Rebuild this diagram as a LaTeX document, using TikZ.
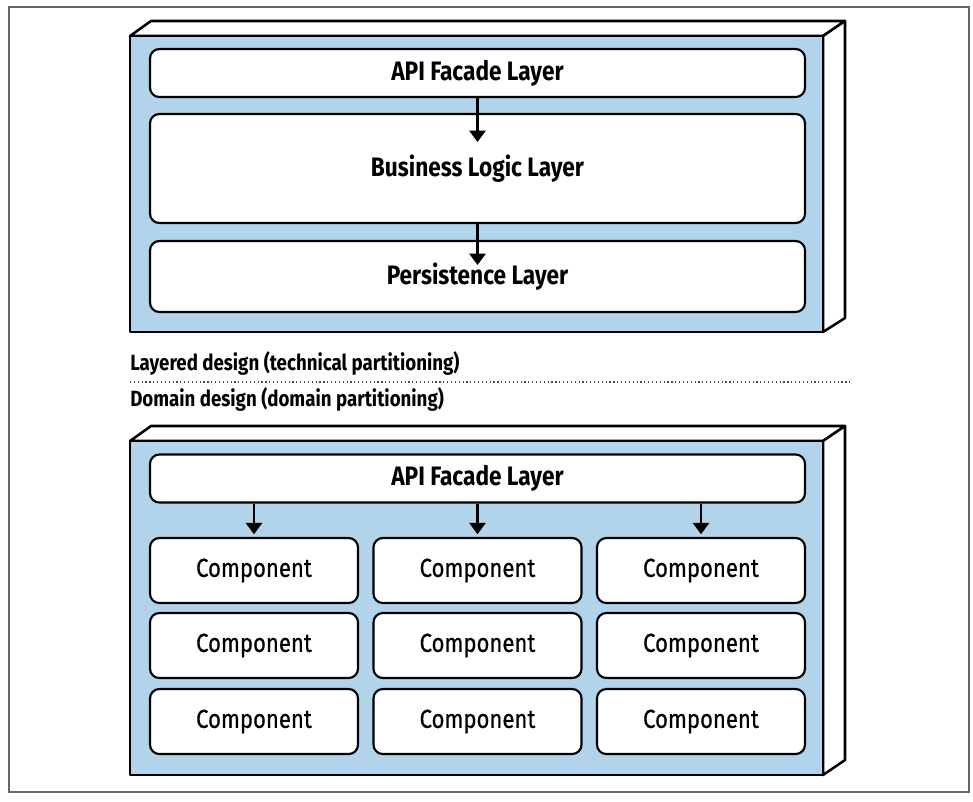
\documentclass[tikz,border=0pt]{standalone}
\usepackage{fontspec}
\setmainfont[FakeStretch=0.85]{Fira Sans}
\newfontfamily\compfont[FakeStretch=0.85,FakeBold=0.6]{Fira Sans}
\usetikzlibrary{arrows.meta}
\definecolor{boxblue}{RGB}{178,212,235}
\tikzset{
  face/.style={draw=black, line width=1.9pt, line join=round, fill=white},
  front/.style={draw=black, line width=1.9pt, line join=round, fill=boxblue},
  layer/.style={draw=black, line width=1.6pt, fill=white, rounded corners=7pt, inner sep=0pt, font=\fontsize{20}{22}\selectfont\bfseries},
  comp/.style={draw=black, line width=1.6pt, fill=white, rounded corners=7pt, inner sep=0pt, minimum width={208*0.75pt}, minimum height={65*0.75pt}, font=\compfont\fontsize{19.5}{22}\selectfont},
  arr/.style={line width=1.9pt, -{Triangle[width=12pt,length=8.5pt]}},
  caption/.style={anchor=west, inner sep=0pt, font=\fontsize{16.5}{18}\selectfont\bfseries},
}
\begin{document}
\begin{tikzpicture}[x=0.75pt,y=-0.75pt]
\useasboundingbox (0,0) rectangle (973,801);
\draw[black!60, line width=0.9pt] (9,7) rectangle (969,792);

% top container
\draw[face] (130,36) -- (151,21) -- (845,21) -- (823,36) -- cycle;
\draw[face] (823,36) -- (845,21) -- (845,318) -- (823,332) -- cycle;
\draw[front] (130,36) rectangle (823,332);

\node[layer, minimum width={655*0.75pt}, minimum height={48*0.75pt}] (api1) at (477.5,73) {API Facade Layer};
\node[layer, minimum width={655*0.75pt}, minimum height={109*0.75pt}] (biz) at (477.5,168.5) {Business Logic Layer};
\node[layer, minimum width={655*0.75pt}, minimum height={71*0.75pt}] (pers) at (477.5,276.5) {Persistence Layer};
\coordinate (t1) at (477.5,142);
\coordinate (t2) at (477.5,265);
\draw[arr] (api1.south) -- (t1);
\draw[arr] (biz.south) -- (t2);

% captions
\node[caption] (cap1) at (130,363) {Layered design (technical partitioning)};
\coordinate (d1) at (130,382);
\coordinate (d2) at (850,382);
\draw[black!70, line width=0.9pt, dotted] (d1) -- (d2);
\node[caption] (cap2) at (130,399) {Domain design (domain partitioning)};

% bottom container
\draw[face] (130,441) -- (151,426) -- (845,426) -- (823,441) -- cycle;
\draw[face] (823,441) -- (845,426) -- (845,760) -- (823,775) -- cycle;
\draw[front] (130,441) rectangle (823,775);

\node[layer, minimum width={655*0.75pt}, minimum height={48*0.75pt}] (api2) at (477.5,478.5) {API Facade Layer};

\foreach \c/\x in {1/254,2/477.5,3/701}{
  \foreach \r/\y in {1/570.5,2/645.5,3/721.5}{
    \node[comp] (c\r\c) at (\x,\y) {Component};
  }
  \draw[arr, shorten >=2pt] (api2.south -| c1\c.north) -- (c1\c.north);
}
\end{tikzpicture}
\end{document}
